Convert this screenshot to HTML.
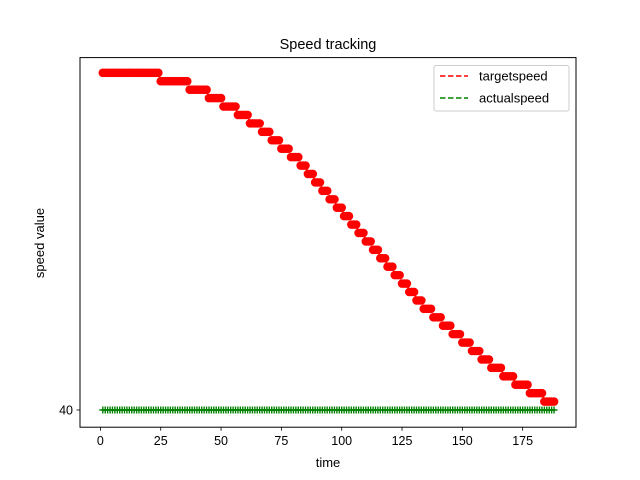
<!DOCTYPE html>
<html><head><meta charset="utf-8">
<style>body{margin:0;background:#fff}svg{display:block;font-family:"Liberation Sans","DejaVu Sans",sans-serif}</style>
</head><body>
<svg id="chart" width="640" height="480" viewBox="0 0 640 480">
<rect width="640" height="480" fill="#fff"/>
<text x="328" y="49" font-size="14.5" text-anchor="middle">Speed tracking</text>
<g id="plot"></g>
<rect x="80" y="57.6" width="496" height="369.6" fill="none" stroke="#000" stroke-width="1"/>
<g id="xticks"></g>
<g id="yticks"></g>
<text x="328" y="467" font-size="13" text-anchor="middle">time</text>
<text transform="translate(44,243) rotate(-90)" font-size="13" text-anchor="middle">speed value</text>
<g>
<rect x="434" y="65.5" width="135" height="45.5" rx="2" fill="#fff" stroke="#ccc" stroke-width="1"/>
<line x1="440" y1="76" x2="468" y2="76" stroke="#f00" stroke-width="1.5" stroke-dasharray="5.5,2.5"/>
<text x="479" y="80.5" font-size="13">targetspeed</text>
<line x1="440" y1="98" x2="468" y2="98" stroke="#008000" stroke-width="1.5" stroke-dasharray="5.5,2.5"/>
<text x="479" y="102.5" font-size="13">actualspeed</text>
</g>
</svg>
<script>
const targetLevels=[40,39,38,37,36,35,34,33,32,31,30,29,28,27,26,25,24,23,22,21,20,19,18,17,16,15,14,13,12,11,10,9,8,7,6,5,4,3,2,1];
const targetRuns=[24,12,8,6,6,5,5,4,4,4,4,3,3,3,3,3,3,3,3,3,3,3,3,3,3,3,3,3,4,4,4,4,4,4,4,5,5,6,6,5];
const actualLevel=0;
const xTickValues=[0,25,50,75,100,125,150,175];
const yTickLevels=[0];
const yTickLabels=["40"];

const NS="http://www.w3.org/2000/svg";
function X(t){return 100.4+t*2.413;}
function Y(l){return 410-l*8.43;}
const plot=document.getElementById('plot');
function mk(tag,attrs,parent){const e=document.createElementNS(NS,tag);for(const k in attrs)e.setAttribute(k,attrs[k]);parent.appendChild(e);return e;}

const target=[];let t=1;
targetRuns.forEach((n,i)=>{for(let j=0;j<n;j++){target.push([t,targetLevels[i]]);t++;}});
const N=target.length;

let d=target.map((p,i)=>(i?'L':'M')+X(p[0]).toFixed(2)+' '+Y(p[1]).toFixed(2)).join(' ');
const tl=mk('path',{d:d,fill:'none',stroke:'#f00','stroke-width':1.5,'stroke-dasharray':'5.5,2.5'},plot);


target.forEach(p=>{
  const c=mk('circle',{cx:X(p[0]),cy:Y(p[1]),r:4.3,fill:'#f00'},plot);
  
  
});

const al=mk('line',{x1:X(1),y1:Y(actualLevel),x2:X(N),y2:Y(actualLevel),stroke:'#008000','stroke-width':1.5,'stroke-dasharray':'5.5,2.5'},plot);


for(let i=1;i<=N;i++){
  const x=X(i),y=Y(actualLevel);
  const m=mk('path',{d:`M${x-3.5} ${y}H${x+3.5}M${x} ${y-3.5}V${y+3.5}`,stroke:'#008000','stroke-width':1.4,fill:'none'},plot);
  
  
}

const xt=document.getElementById('xticks');
xTickValues.forEach(v=>{
  const g=mk('g',{},xt);
  
  
  mk('line',{x1:X(v),y1:427.2,x2:X(v),y2:430.7,stroke:'#000','stroke-width':0.8},g);
  const tx=mk('text',{x:X(v),y:445,'font-size':'12.5','text-anchor':'middle'},g);
  tx.textContent=v;
});
const yt=document.getElementById('yticks');
yTickLevels.forEach((l,i)=>{
  const g=mk('g',{},yt);
  
  
  mk('line',{x1:76.5,y1:Y(l),x2:80,y2:Y(l),stroke:'#000','stroke-width':0.8},g);
  const tx=mk('text',{x:73,y:Y(l)+4.5,'font-size':'12.5','text-anchor':'end'},g);
  tx.textContent=yTickLabels[i];
});
</script>
</body></html>
